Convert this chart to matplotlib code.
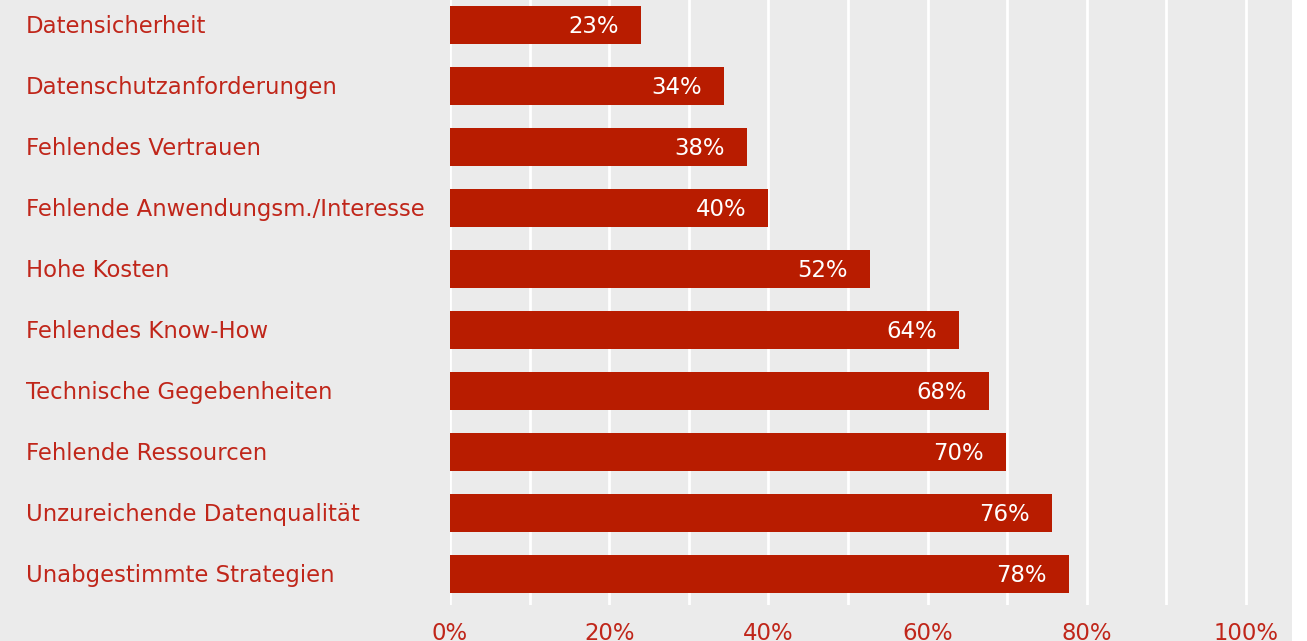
import matplotlib.pyplot as plt
from matplotlib.patches import Rectangle

categories = [
    "Datensicherheit",
    "Datenschutzanforderungen",
    "Fehlendes Vertrauen",
    "Fehlende Anwendungsm./Interesse",
    "Hohe Kosten",
    "Fehlendes Know-How",
    "Technische Gegebenheiten",
    "Fehlende Ressourcen",
    "Unzureichende Datenqualität",
    "Unabgestimmte Strategien",
]
values = [23, 34, 38, 40, 52, 64, 68, 70, 76, 78]
bar_lengths = [24, 34.4, 37.3, 40, 52.8, 64, 67.7, 69.8, 75.6, 77.8]
xticks = [0, 20, 40, 60, 80, 100]

W, H = 1307, 641
bg = "#ebebeb"
bar_col = "#b81c00"
txt_col = "#c0261a"
fs = 16.4

plt.rcParams['font.family'] = ['DejaVu Sans']

fig = plt.figure(figsize=(W / 100, H / 100), dpi=100, facecolor="white")
fig.patches.append(Rectangle((0, 0), 1292 / W, 1, transform=fig.transFigure,
                             facecolor=bg, edgecolor="none", zorder=-10))

ax = fig.add_axes([450 / W, 1 - 605 / H, 812 / W, 605 / H])
ax.set_facecolor("none")
ax.set_xlim(0, 102)
ax.set_ylim(9.508, -0.41)

for g in range(0, 101, 10):
    ax.axvline(g, color="white", lw=2, zorder=0)

y = list(range(len(categories)))
ax.barh(y, bar_lengths, height=0.61, color=bar_col, zorder=2)

for yi, v, l in zip(y, values, bar_lengths):
    ax.text(l - 2.8, yi + 0.02, f"{v}%", color="white", fontsize=fs,
            ha="right", va="center", zorder=3)

for yi, c in zip(y, categories):
    ax.text(26 / W, ax.transData.transform((0, yi + 0.02))[1] / H, c,
            transform=fig.transFigure, color=txt_col, fontsize=fs,
            ha="left", va="center")

# x tick labels below the plot area
for t in xticks:
    ax.text(t, 9.508 + 28 / 61, f"{t}%", color=txt_col, fontsize=fs,
            ha="center", va="center", clip_on=False)

ax.set_xticks([])
ax.set_yticks([])
for s in ax.spines.values():
    s.set_visible(False)

fig.savefig("out.png", dpi=100, facecolor=fig.get_facecolor())
